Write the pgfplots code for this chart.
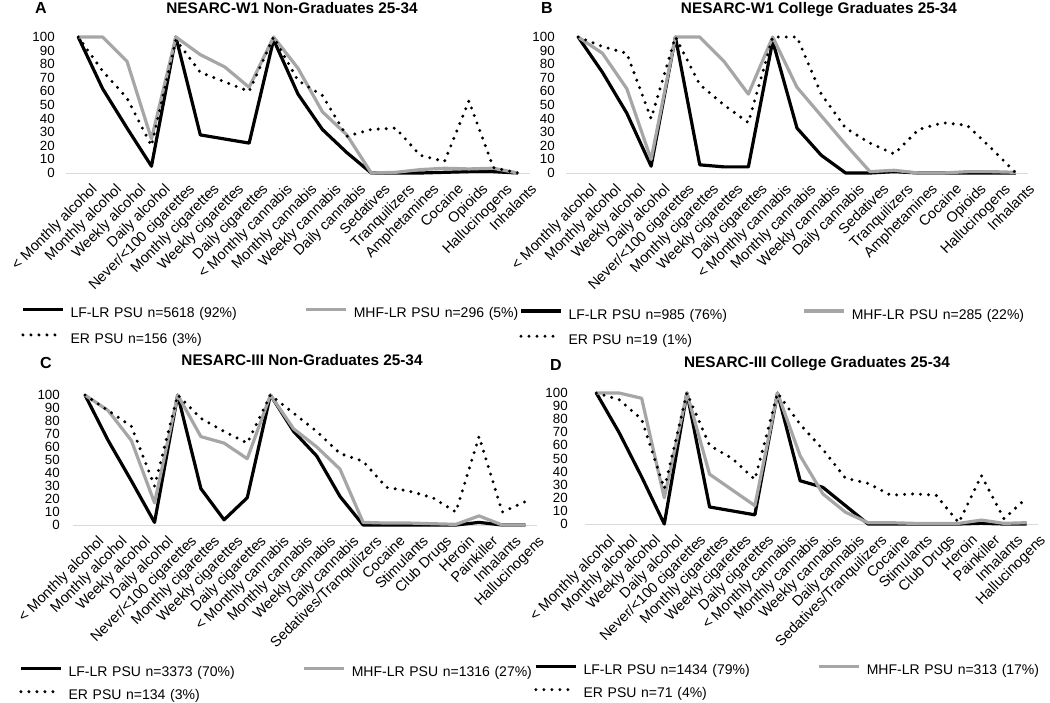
\documentclass[border=0pt]{standalone}
\usepackage{fontspec}
\setmainfont{Liberation Sans}
\usepackage{pgfplots}
\pgfplotsset{compat=1.18}

\definecolor{mhfgray}{RGB}{166,166,166}
\definecolor{axgray}{RGB}{217,217,217}

\pgfplotsset{
  panel/.style={
    scale only axis,
    anchor=south west,
    xmin=-0.5, ymin=0, ymax=100,
    clip=false,
    set layers,
    axis x line*=bottom,
    axis y line*=left,
    y axis line style={draw=none},
    x axis line style={draw=axgray, line width=0.75pt, -},
    ytick={0,10,...,100},
    major tick length=0pt,
    tick style={draw=none},
    /pgf/number format/assume math mode=true,
    yticklabel style={font=\fontsize{10}{12}\selectfont, anchor=east, inner sep=0pt},
    xticklabel style={font=\fontsize{10.9}{12}\selectfont, rotate=45, anchor=north east, inner sep=0pt, yshift=-11.25pt, xshift=1.5pt},
    legend columns=2,
    legend cell align=left,
    legend image code/.code={\draw[##1] (0pt,3.5pt) -- (30pt,3.5pt);},
    legend style={draw=none, fill=none, inner sep=0pt, column sep=0pt, row sep=9.5pt,
      font=\fontsize{10.5}{12}\selectfont, anchor=north west,
      nodes={inner sep=0pt, text width=175.5pt, text height=7.5pt, text depth=2pt},
      /tikz/every odd column/.style={column sep=4.5pt}},
  },
  lf/.style={black, line width=2.4pt, line join=round},
  mhf/.style={mhfgray, line width=2.4pt, line join=round},
  er/.style={black, line width=2.5pt, line cap=round, dash pattern=on 0pt off 6pt},
}

\begin{document}
\begin{tikzpicture}

% panel A
\node[font=\bfseries\fontsize{12}{14}\selectfont, anchor=base] at (30.75pt,-10pt) {A};
\node[font=\bfseries\fontsize{11.5}{14}\selectfont, anchor=base] at (219pt,-10pt) {NESARC-W1 Non-Graduates 25-34};
\begin{axis}[panel, at={(49.5pt,-129.75pt)}, width=348pt, height=102pt, xmax=18.5,
  xtick={0,...,18},
  xticklabels={< Monthly alcohol, Monthly alcohol, Weekly alcohol, Daily alcohol, Never/<100 cigarettes, Monthly cigarettes, Weekly cigarettes, Daily cigarettes, < Monthly cannabis, Monthly cannabis, Weekly cannabis, Daily cannabis, Sedatives, Tranquilizers, Amphetamines, Cocaine, Opioids, Hallucinogens, Inhalants},
  yticklabel style={xshift=-8.25pt},
  legend style={at={(-0.097,-0.99)}}]
\addplot[lf] table {
0 100
1 62
2 33
3 5
4 100
5 28
6 25
7 22
8 98
9 58
10 32
11 15
12 0
13 0
14 0
15 0.5
16 1
17 1
18 0
};
\addlegendentry{LF-LR PSU n=5618 (92\%)}
\addplot[mhf] table {
0 100
1 100
2 82
3 25
4 100
5 87
6 78
7 63
8 100
9 77
10 45
11 28
12 0
13 0.5
14 2.5
15 3.5
16 3
17 3.5
18 0
};
\addlegendentry{MHF-LR PSU n=296 (5\%)}
\addplot[er] table {
0 100
1 75
2 55
3 20
4 98
5 74
6 67
7 60
8 100
9 68
10 57
11 27
12 32
13 33
14 13
15 8.5
16 53
17 4
18 0
};
\addlegendentry{ER PSU n=156 (3\%)}
\end{axis}

% panel B
\node[font=\bfseries\fontsize{12}{14}\selectfont, anchor=base] at (410.25pt,-10pt) {B};
\node[font=\bfseries\fontsize{11.5}{14}\selectfont, anchor=base] at (614.25pt,-10pt) {NESARC-W1 College Graduates 25-34};
\begin{axis}[panel, at={(424.5pt,-129.75pt)}, width=346.5pt, height=102pt, xmax=18.5,
  xtick={0,...,18},
  xticklabels={< Monthly alcohol, Monthly alcohol, Weekly alcohol, Daily alcohol, Never/<100 cigarettes, Monthly cigarettes, Weekly cigarettes, Daily cigarettes, < Monthly cannabis, Monthly cannabis, Weekly cannabis, Daily cannabis, Sedatives, Tranquilizers, Amphetamines, Cocaine, Opioids, Hallucinogens, Inhalants},
  yticklabel style={xshift=-8.25pt},
  legend style={at={(-0.1017,-1.0)}}]
\addplot[lf] table {
0 100
1 74
2 44
3 5
4 100
5 6
6 4.5
7 4.5
8 97
9 33
10 13
11 0
12 0
13 1
14 0
15 0
16 0
17 0
18 0
};
\addlegendentry{LF-LR PSU n=985 (76\%)}
\addplot[mhf] table {
0 100
1 88
2 62
3 10
4 100
5 100
6 82
7 58
8 100
9 63
10 42
11 21
12 1
13 2
14 0
15 0
16 1
17 1
18 0.5
};
\addlegendentry{MHF-LR PSU n=285 (22\%)}
\addplot[er] table {
0 100
1 93
2 88
3 40
4 100
5 65
6 50
7 37
8 100
9 100
10 58
11 33
12 22
13 14
14 32
15 37
16 35
17 18
18 0
};
\addlegendentry{ER PSU n=19 (1\%)}
\end{axis}

% panel C
\node[font=\bfseries\fontsize{12}{14}\selectfont, anchor=base] at (34.5pt,-276pt) {C};
\node[font=\bfseries\fontsize{11.5}{14}\selectfont, anchor=base] at (226.5pt,-273.75pt) {NESARC-III Non-Graduates 25-34};
\begin{axis}[panel, at={(55.05pt,-393.75pt)}, width=347.7pt, height=97.5pt, xmax=19.5,
  xtick={0,...,19},
  xticklabels={< Monthly alcohol, Monthly alcohol, Weekly alcohol, Daily alcohol, Never/<100 cigarettes, Monthly cigarettes, Weekly cigarettes, Daily cigarettes, < Monthly cannabis, Monthly cannabis, Weekly cannabis, Daily cannabis, Sedatives/Tranquilizers, Cocaine, Stimulants, Club Drugs, Heroin, Painkiller, Inhalants, Hallucinogens},
  yticklabel style={xshift=-10pt},
  legend style={row sep=7.75pt, at={(-0.1173,-1.09)}}]
\addplot[lf] table {
0 100
1 65
2 34
3 2
4 100
5 28
6 4
7 21
8 100
9 72
10 53
11 22
12 0
13 0
14 0
15 0
16 0
17 2
18 0
19 0
};
\addlegendentry{LF-LR PSU n=3373 (70\%)}
\addplot[mhf] table {
0 100
1 88
2 65
3 17
4 100
5 68
6 63
7 51
8 100
9 74
10 60
11 43
12 2
13 1.5
14 1.5
15 1
16 0.5
17 7
18 0
19 0
};
\addlegendentry{MHF-LR PSU n=1316 (27\%)}
\addplot[er] table {
0 100
1 88
2 76
3 30
4 100
5 82
6 72
7 63
8 100
9 86
10 72
11 55
12 49
13 29
14 26
15 21
16 10
17 68
18 10
19 18
};
\addlegendentry{ER PSU n=134 (3\%)}
\end{axis}

% panel D
\node[font=\bfseries\fontsize{12}{14}\selectfont, anchor=base] at (417pt,-277.5pt) {D};
\node[font=\bfseries\fontsize{11.5}{14}\selectfont, anchor=base] at (612.75pt,-275.25pt) {NESARC-III College Graduates 25-34};
\begin{axis}[panel, at={(438.75pt,-393pt)}, width=339.75pt, height=98.25pt, xmax=19.5,
  xtick={0,...,19},
  xticklabels={< Monthly alcohol, Monthly alcohol, Weekly alcohol, Daily alcohol, Never/<100 cigarettes, Monthly cigarettes, Weekly cigarettes, Daily cigarettes, < Monthly cannabis, Monthly cannabis, Weekly cannabis, Daily cannabis, Sedatives/Tranquilizers, Cocaine, Stimulants, Club Drugs, Heroin, Painkiller, Inhalants, Hallucinogens},
  yticklabel style={xshift=-12.75pt},
  legend style={row sep=7.75pt, at={(-0.1126,-1.074)}}]
\addplot[lf] table {
0 100
1 70
2 36
3 0
4 100
5 13
6 10
7 7
8 100
9 33
10 28
11 14
12 0
13 0
14 0
15 0
16 0
17 0.5
18 0
19 0
};
\addlegendentry{LF-LR PSU n=1434 (79\%)}
\addplot[mhf] table {
0 100
1 100
2 96
3 20
4 100
5 38
6 26
7 14
8 100
9 52
10 23
11 9
12 1
13 1
14 0.5
15 0.5
16 0.5
17 3
18 0.5
19 1
};
\addlegendentry{MHF-LR PSU n=313 (17\%)}
\addplot[er] table {
0 100
1 95
2 80
3 27
4 100
5 60
6 50
7 34
8 100
9 76
10 57
11 35
12 31
13 22
14 23
15 22
16 1
17 37
18 4
19 20
};
\addlegendentry{ER PSU n=71 (4\%)}
\end{axis}

\pgfresetboundingbox
\useasboundingbox (0,0) rectangle (787.5pt,-527.25pt);
\end{tikzpicture}
\end{document}
